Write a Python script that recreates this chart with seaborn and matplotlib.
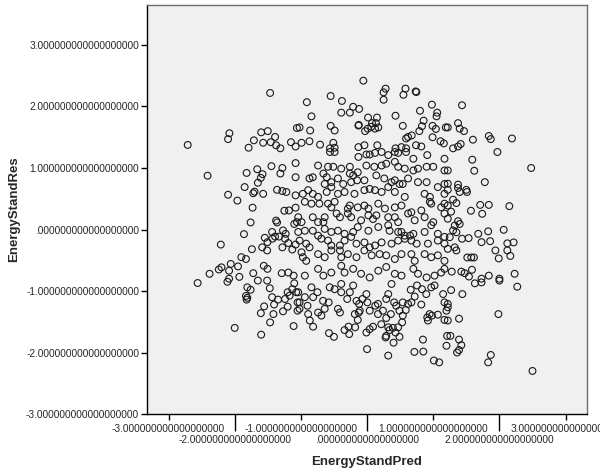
import numpy as np
import pandas as pd
import matplotlib
matplotlib.use("Agg")
import matplotlib.pyplot as plt
import seaborn as sns

# values (standardized predicted vs standardized residual)
left_pred = [-1.465, -2.08, -2.10, -2.71, -1.60, -1.50, -1.71, -1.57, -1.39, -1.455, -1.79, -1.15, -1.06, -1.375, -1.31, -1.08,
             -2.41, -1.82, -1.66, -1.58, -1.605, -1.65, -1.445, -1.28, -1.31, -1.08, -1.08, -2.10, -1.96, -1.85, -1.70, -1.72,
             -1.57, -1.36, -1.28, -1.22, -1.08, -1.73, -1.25, -1.18, -1.08, -1.76, -1.375, -1.36, -1.10, -1.06,
             -1.86, -2.21, -1.435, -1.33, -1.27, -1.23, -1.24, -1.19, -1.545, -1.505, -1.585, -1.51, -1.28, -1.13, -1.08,
             -1.74, -1.39, -1.43, -1.90, -1.83, -2.06, -2.20, -2.24, -2.085, -1.95, -2.38, -1.56, -1.505, -1.72, -2.085,
             -1.93, -1.29, -1.19, -1.11, -2.56,
             -2.11, -1.81, -1.76, -1.83, -1.81, -1.82, -1.65, -1.51, -1.47, -1.435, -1.345, -1.405, -1.555, -1.605, -1.415,
             -1.465, -2.00, -1.60, -1.24, -1.20, -1.27, -1.17, -1.13, -1.10, -1.07, -1.20, -1.11, -1.05, -1.05]
left_res = [2.22, 1.565, 1.47, 1.375, 1.58, 1.60, 1.45, 1.41, 1.505, 1.42, 1.33, 1.42, 1.65, 1.37, 1.32, 1.35,
            0.875, 0.92, 0.98, 0.90, 0.84, 0.76, 1.03, 1.00, 0.91, 1.08, 0.85, 0.565, 0.47, 0.69, 0.615, 0.59,
            0.58, 0.645, 0.625, 0.61, 0.555, 0.355, 0.305, 0.31, 0.355, 0.115, 0.145, 0.115, 0.09, 0.12,
            -0.075, -0.245, -0.04, -0.115, -0.015, -0.07, -0.15, -0.22, -0.135, -0.205, -0.29, -0.34, -0.29, -0.325, -0.245,
            -0.32, -0.115, -0.15, -0.45, -0.48, -0.56, -0.615, -0.65, -0.67, -0.60, -0.72, -0.59, -0.64, -0.71, -0.80,
            -0.77, -0.71, -0.70, -0.75, -0.87,
            -0.85, -0.94, -0.98, -1.08, -1.11, -1.14, -0.83, -0.83, -0.955, -1.10, -1.14, -1.22, -1.25, -1.36, -1.375,
            -1.51, -1.60, -1.71, -1.13, -1.255, -1.33, -1.075, -0.97, -0.875, -1.02, -1.02, -1.57, -1.32, -1.185]

top_pred = [-0.056, 0.28, 0.25, 0.25, 0.58, 0.55, 0.735, 0.745, -0.91, -0.55, -0.38, -0.21, -0.12, -0.26, -0.39, -0.84,
            0.43, 0.015, 0.15, -0.125, -0.13, 0.075, 0.135, 0.01, 0.065, 0.12, 0.17, -0.03, -1.02, -0.86, -0.55, -0.49,
            0.98, 1.06, 1.05, 0.80, 0.855, 0.83, 0.79, 0.54, 0.99, 1.04, 1.19, 0.99, 1.11, 1.16, 0.62, 0.59, 0.675,
            0.74, 0.82, -0.99, -0.87, -0.71, -0.51, -0.13, -0.04, 0.155, 0.43, 0.52, 0.59, -0.56, -0.49,
            1.435, 1.375, 1.40, 1.465, 1.22, 1.60, 1.84, 1.87, 2.19, 1.415, 1.375, 1.30, 1.97]
top_res = [2.42, 2.29, 2.23, 2.11, 2.29, 2.19, 2.245, 2.235, 2.07, 2.17, 2.09, 1.995, 1.96, 1.90, 1.90, 1.84,
           1.85, 1.82, 1.82, 1.70, 1.69, 1.73, 1.73, 1.64, 1.67, 1.64, 1.66, 1.60, 1.66, 1.61, 1.685, 1.61,
           2.03, 1.90, 1.84, 1.93, 1.77, 1.68, 1.60, 1.685, 1.685, 1.635, 1.66, 1.50, 1.435, 1.40, 1.505, 1.48, 1.53,
           1.37, 1.35, 1.41, 1.435, 1.38, 1.41, 1.34, 1.37, 1.37, 1.32, 1.34, 1.32, 1.32, 1.33,
           2.02, 1.73, 1.64, 1.60, 1.66, 1.46, 1.52, 1.47, 1.48, 1.39, 1.35, 1.32, 1.26]

right_pred = [2.48, 1.59, 1.62, 1.78, 1.375, 1.375, 1.50, 1.51, 1.40, 1.22, 1.22, 1.30, 1.35, 1.27, 1.22, 1.71, 1.84,
              1.74, 1.57, 2.15, 1.375, 1.325, 1.40, 1.30, 1.35, 1.22, 1.25, 1.435, 1.535, 1.68, 1.73, 1.83, 1.86,
              2.065, 1.325, 1.35, 1.22, 1.94, 1.99, 2.12, 2.215, 2.12, 2.165, 1.515, 1.575, 1.615, 1.28, 1.425,
              1.475, 1.585, 1.54, 1.73, 1.84, 2.00, 2.23, 1.22]
right_res = [1.0, 1.135, 0.955, 0.77, 0.73, 0.675, 0.645, 0.61, 0.61, 0.645, 0.745, 0.485, 0.43, 0.29, 0.39, 0.40, 0.40,
             0.255, 0.305, 0.38, 0.135, 0.065, 0.09, -0.015, -0.045, 0.175, -0.125, -0.15, -0.14, -0.07, -0.205, -0.03, -0.19,
             -0.005, -0.29, -0.34, -0.315, -0.34, -0.47, -0.225, -0.21, -0.34, -0.43, -0.455, -0.455, -0.455, -0.685, -0.685,
             -0.71, -0.655, -0.765, -0.80, -0.75, -0.80, -0.72, 0.96]

bottom_pred = [0.0, 0.32, 0.715, 0.85, 0.845, 1.01, 1.09, -0.575, -0.50, -0.34, -0.27, -0.815, -0.865, -0.89, -0.18, -0.28,
               -0.01, 0.04, 0.09, 0.28, 0.29, 0.40, 0.49, 0.215, 0.32, 0.39, 0.43, 0.34, 0.47, 0.53, 0.54, 0.49, 0.585,
               -0.14, -0.125, -0.185, 0.29, 0.36, 0.945, 0.91, 0.98, 0.92, 1.07, 1.17, 1.20, 0.82, 0.67, 0.72, 0.66, 1.20, 1.21,
               -1.04, -1.02, -1.02, -0.94, -0.90, -0.84, -0.815, -0.75, -0.74, -0.69, -0.665, -0.64, -0.58, -0.565, -0.49,
               -0.44, -0.41, -0.39, -0.39, -0.30, -0.26, -0.21, -0.16, -0.12, -0.11, -0.07, -0.01, 0.005, 0.04, 0.125,
               0.165, 0.165, 0.24, 0.29, 0.32, 0.37, 0.41, 0.44, 0.54, 0.62, 0.755, 0.83, 0.895, 0.97, 1.02, 1.15, 1.17,
               1.27, 1.44, 1.22, 1.22, 1.39, 1.22, 1.26, 1.39, 1.425, 1.39, 1.36, 1.87, 1.83, 2.50, 1.985, 2.27, 2.00, 1.73, 1.63]
bottom_res = [-1.945, -2.05, -1.99, -1.985, -1.79, -2.13, -2.16, -1.685, -1.745, -1.635, -1.70, -1.58, -1.48, -1.375, -1.59, -1.58,
              -1.675, -1.62, -1.58, -1.755, -1.73, -1.84, -1.745, -1.54, -1.59, -1.60, -1.675, -1.635, -1.59, -1.51, -1.40, -1.32, -1.31,
              -1.47, -1.35, -1.375, -1.44, -1.375, -1.375, -1.43, -1.40, -1.48, -1.385, -1.47, -1.32, -1.22, -1.185, -1.09, -0.98, -1.89, -1.73,
              -1.02, -1.185, -1.29, -1.10, -1.24, -0.94, -1.10, -1.02, -1.35, -1.40, -1.16, -1.29, -1.185, -0.94, -0.97,
              -1.29, -1.35, -1.02, -0.885, -1.13, -1.02, -0.91, -1.16, -1.21, -1.32, -1.13, -1.05, -1.185, -1.32, -1.24,
              -1.21, -1.375, -1.32, -1.13, -1.05, -0.885, -1.185, -1.24, -1.185, -1.21, -0.91, -0.97, -1.05, -0.94, -0.91, -1.05, -1.185,
              -0.985, -1.05, -1.21, -1.265, -1.45, -1.48, -1.73, -1.79, -1.88, -1.96, -2.0, -2.04, -2.16, -2.30, -1.375, -0.93, -0.83, -0.86, -0.875]

center_pred = [-0.56, -0.49, -0.13, -0.01, 0.04, 0.12, 0.22, 0.32, 0.42, 0.47, 0.59, 0.70, 0.91, 1.17,
               -0.74, -0.59, -0.51, -0.39, -0.26, -0.26, -0.21, -0.14, -0.01, 0.11, 0.22, 0.29, 0.42, 0.47, 0.57, 0.70, 0.77, 0.90, 1.0, 1.17,
               -0.87, -0.82, -0.66, -0.61, -0.64, -0.54, -0.44, -0.36, -0.24, -0.15, -0.04, 0.14, 0.26, 0.37, 0.42, 0.49, 0.54, 0.62, 0.77, 0.90, 1.17,
               -0.97, -0.89, -0.82, -0.74, -0.61, -0.54, -0.44, -0.34, -0.19, -0.04, 0.04, 0.12, 0.22, 0.32, 0.42, 0.57, 0.87, 0.95, 1.07, 1.17,
               -0.94, -0.84, -0.72, -0.59, -0.54, -0.49, -0.29, -0.26, -0.14, -0.04, 0.02, 0.17, 0.27, 0.42, 0.52, 0.67, 0.82, 0.95, 0.97, 1.12, 1.17,
               -1.04, -0.99, -0.82, -0.74, -0.66, -0.64, -0.46, -0.41, -0.29, -0.24, -0.09, 0.02, 0.09, 0.14, 0.32, 0.42, 0.47, 0.62, 0.72, 0.87, 1.0, 1.17,
               -1.04, -0.94, -0.82, -0.74, -0.64, -0.54, -0.44, -0.34, -0.21, -0.14, 0.02, 0.17, 0.32, 0.34, 0.47, 0.52, 0.57, 0.65, 0.70, 0.87, 0.97, 1.07, 1.17,
               -1.02, -0.92, -0.87, -0.69, -0.59, -0.54, -0.41, -0.34, -0.24, -0.16, -0.04, 0.04, 0.12, 0.22, 0.37, 0.47, 0.57, 0.67, 0.75, 0.92, 1.07, 1.17,
               -0.99, -0.97, -0.92, -0.74, -0.64, -0.54, -0.41, -0.39, -0.29, -0.16, -0.04, 0.07, 0.19, 0.29, 0.42, 0.52, 0.67, 0.72, 0.87, 0.97, 1.07, 1.17,
               -0.94, -0.74, -0.66, -0.54, -0.39, -0.34, -0.21, -0.09, 0.04, 0.17, 0.29, 0.42, 0.52, 0.70, 0.77, 0.90, 1.02, 1.12, 1.17]
center_res = [1.26, 1.26, 1.18, 1.22, 1.22, 1.245, 1.26, 1.21, 1.26, 1.245, 1.26, 1.15, 1.21, 1.15,
              1.04, 1.02, 1.02, 0.99, 1.02, 0.91, 0.88, 0.93, 1.04, 1.02, 1.04, 1.07, 1.10, 1.02, 0.99, 0.96, 0.99, 1.02, 1.02, 0.96,
              0.83, 0.85, 0.91, 0.85, 0.74, 0.77, 0.83, 0.74, 0.77, 0.80, 0.80, 0.88, 0.83, 0.77, 0.80, 0.74, 0.74, 0.83, 0.77, 0.77, 0.74,
              0.58, 0.64, 0.58, 0.53, 0.61, 0.69, 0.58, 0.61, 0.58, 0.64, 0.66, 0.64, 0.61, 0.69, 0.61, 0.53, 0.58, 0.53, 0.69, 0.58,
              0.45, 0.42, 0.42, 0.42, 0.36, 0.45, 0.34, 0.39, 0.36, 0.39, 0.34, 0.42, 0.34, 0.36, 0.39, 0.28, 0.31, 0.45, 0.42, 0.36, 0.42,
              0.20, 0.12, 0.20, 0.12, 0.12, 0.20, 0.26, 0.20, 0.26, 0.20, 0.15, 0.23, 0.17, 0.23, 0.20, 0.20, 0.12, 0.26, 0.15, 0.20, 0.12, 0.26,
              -0.04, -0.02, -0.02, -0.10, 0.01, -0.04, -0.02, -0.07, -0.04, 0.04, -0.02, 0.04, 0.07, -0.02, -0.04, -0.04, -0.10, -0.10, -0.07, -0.04, 0.07, -0.07, -0.12,
              -0.18, -0.23, -0.29, -0.15, -0.18, -0.26, -0.26, -0.18, -0.12, -0.23, -0.21, -0.29, -0.26, -0.21, -0.23, -0.18, -0.15, -0.18, -0.23, -0.23, -0.18, -0.23,
              -0.37, -0.45, -0.51, -0.40, -0.45, -0.34, -0.34, -0.45, -0.40, -0.45, -0.34, -0.42, -0.40, -0.42, -0.48, -0.40, -0.40, -0.51, -0.40, -0.45, -0.42, -0.51,
              -0.75, -0.64, -0.75, -0.70, -0.59, -0.70, -0.64, -0.72, -0.78, -0.67, -0.61, -0.72, -0.75, -0.64, -0.72, -0.78, -0.75, -0.70, -0.64]

df = pd.DataFrame({
    "EnergyStandPred": left_pred + top_pred + right_pred + bottom_pred + center_pred,
    "EnergyStandRes": left_res + top_res + right_res + bottom_res + center_res,
})

sns.set_style("white")
plt.rcParams["font.family"] = ["Liberation Sans", "DejaVu Sans"]

fig = plt.figure(figsize=(6, 4.73), dpi=100)
ax = fig.add_axes([0.2445, 0.1247, 0.7345, 0.8647])
ax.set_facecolor("#f0f0f0")

sns.scatterplot(data=df, x="EnergyStandPred", y="EnergyStandRes", ax=ax,
                marker="o", s=24, facecolor="none", edgecolor="#1a1a1a", linewidth=0.8)

ax.set_xlim(-3.33, 3.33)
ax.set_ylim(-3.0, 3.65)

def fmt(v):
    s = "%.18f" % v
    return s.replace("0.", ".", 1) if v == 0 else s

# staggered x tick labels, like SPSS
ax.set_xticks([-3, -1, 1, 3], labels=[fmt(v) for v in [-3, -1, 1, 3]])
ax.set_xticks([-2, 0, 2], minor=True, labels=[fmt(v) for v in [-2, 0, 2]])
ax.set_yticks(range(-3, 4), labels=[fmt(v) for v in range(-3, 4)])
ax.tick_params(axis="x", which="major", length=4, width=1, pad=3.5, labelsize=7.3, color="black")
ax.tick_params(axis="x", which="minor", length=12, width=1, pad=3, labelsize=7.3, color="black")
ax.tick_params(axis="y", length=4, width=1, pad=1.5, labelsize=7.3, color="black", left=True)
ax.tick_params(axis="x", bottom=True, which="both")

for side in ["left", "bottom"]:
    ax.spines[side].set_color("black")
    ax.spines[side].set_linewidth(1.0)
for side in ["top", "right"]:
    ax.spines[side].set_color("#6e6e6e")
    ax.spines[side].set_linewidth(1.0)

ax.set_xlabel("EnergyStandPred", fontsize=9.5, fontweight="bold")
ax.set_ylabel("EnergyStandRes", fontsize=9.5, fontweight="bold")
ax.xaxis.set_label_coords(0.5, -0.103)
ax.yaxis.set_label_coords(-0.2875, 0.5)

fig.savefig("out.png", dpi=100)
